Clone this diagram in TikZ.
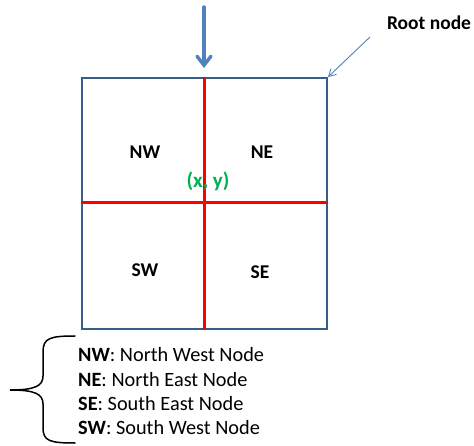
\documentclass[tikz,border=0pt]{standalone}
\usepackage{fontspec}
\setmainfont{Carlito}
\usetikzlibrary{arrows.meta}
\definecolor{frameblue}{HTML}{385D8A}
\definecolor{arrowblue}{HTML}{4F81BD}
\definecolor{gridred}{HTML}{FF0000}
\definecolor{pointgreen}{HTML}{00B050}
\tikzset{
  quadlabel/.style={font=\fontsize{19.5}{22}\selectfont\bfseries, inner sep=0pt},
  legendline/.style={font=\fontsize{20.3}{22}\selectfont, anchor=base west, inner sep=0pt},
  splitline/.style={draw=gridred, line width=3pt},
}
\begin{document}
\begin{tikzpicture}[x=1pt, y=-1pt]
  \useasboundingbox (0,0) rectangle (474,446);
  % root square
  \node[draw=frameblue, line width=2pt, minimum width=245pt, minimum height=251pt,
        inner sep=0pt, anchor=north west] (root) at (81,77) {};
  % splitting lines through the centre point
  \draw[splitline] (root.north -| 204,0) -- (root.south -| 204,0);
  \draw[splitline] (root.west |- 0,203) -- (root.east |- 0,203);
  % quadrant labels
  \node[quadlabel] (nw) at (145,152) {NW};
  \node[quadlabel] (ne) at (262,152) {NE};
  \node[quadlabel] (sw) at (145,270) {SW};
  \node[quadlabel] (se) at (260,272) {SE};
  \node[quadlabel, text=pointgreen, font=\fontsize{21}{22}\selectfont\bfseries] (pt) at (208,181) {(x, y)};
  % incoming arrow
  \coordinate (in) at (204,7);
  \draw[arrowblue, line width=3.4pt, line cap=round,
        -{Straight Barb[length=9pt,width=14pt,line width=3.4pt,line cap=round]}]
    (in) -- (204,68);
  % root node callout
  \node[quadlabel] (rootlbl) at (429,23) {Root node};
  \coordinate (calloutstart) at (370,37);
  \draw[arrowblue, line width=0.9pt, -{Straight Barb[length=7pt,width=8pt]}]
    (calloutstart) -- (root.north east);
  % legend
  \node[legendline] (l1) at (78,361) {\textbf{NW}: North West Node};
  \node[legendline] (l2) at (78,386) {\textbf{NE}: North East Node};
  \node[legendline] (l3) at (78,410) {\textbf{SE}: South East Node};
  \node[legendline] (l4) at (78,434) {\textbf{SW}: South West Node};
  % brace grouping the legend
  \draw[line width=1.5pt, line cap=round]
    (75,336) .. controls (50,336) and (43,338) .. (43,352) -- (43,376)
    .. controls (43,386) and (35,390) .. (10,390)
    .. controls (35,390) and (43,394) .. (43,404) -- (43,428)
    .. controls (43,441) and (50,443) .. (75,443);
\end{tikzpicture}
\end{document}
